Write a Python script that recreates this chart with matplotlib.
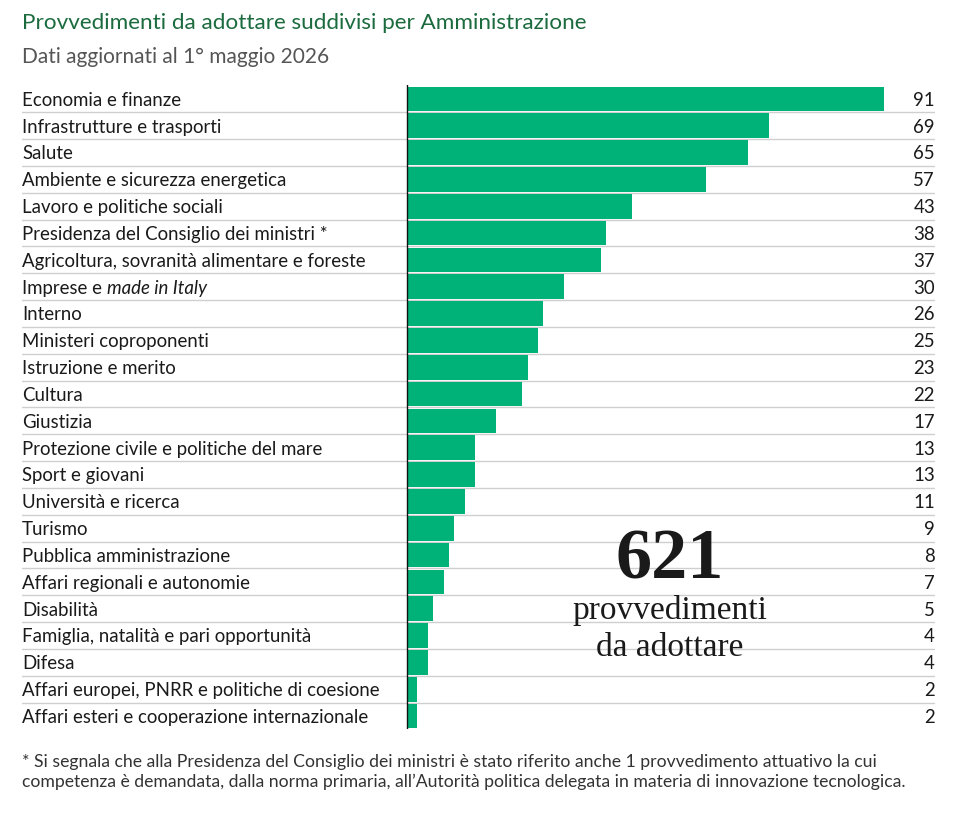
import matplotlib
matplotlib.use("Agg")
import matplotlib.pyplot as plt

# data
categories = [
    "Economia e finanze",
    "Infrastrutture e trasporti",
    "Salute",
    "Ambiente e sicurezza energetica",
    "Lavoro e politiche sociali",
    "Presidenza del Consiglio dei ministri *",
    "Agricoltura, sovranità alimentare e foreste",
    "Imprese e ",
    "Interno",
    "Ministeri coproponenti",
    "Istruzione e merito",
    "Cultura",
    "Giustizia",
    "Protezione civile e politiche del mare",
    "Sport e giovani",
    "Università e ricerca",
    "Turismo",
    "Pubblica amministrazione",
    "Affari regionali e autonomie",
    "Disabilità",
    "Famiglia, natalità e pari opportunità",
    "Difesa",
    "Affari europei, PNRR e politiche di coesione",
    "Affari esteri e cooperazione internazionale",
]
values = [91, 69, 65, 57, 43, 38, 37, 30, 26, 25, 23, 22, 17, 13, 13, 11, 9, 8, 7, 5, 4, 4, 2, 2]
italic_suffix = {7: "made in Italy"}

title = "Provvedimenti da adottare suddivisi per Amministrazione"
subtitle = "Dati aggiornati al 1° maggio 2026"
total_label = "621"
total_text = "provvedimenti\nda adottare"
footnote = ("* Si segnala che alla Presidenza del Consiglio dei ministri è stato riferito anche 1 provvedimento attuativo la cui\n"
            "competenza è demandata, dalla norma primaria, all’Autorità politica delegata in materia di innovazione tecnologica.")

W, H = 970, 818
BAR = "#00b277"
GREEN_TITLE = "#1b6b3e"
TXT = "#1a1a1a"
FONT = ["Lato", "DejaVu Sans"]

plt.rcParams["font.family"] = FONT

fig = plt.figure(figsize=(W / 100, H / 100), dpi=100)

# axes in pixel layout: 0 at x=407, 91 at x=884
x0_px, x1_px = 407, 884
left_px, right_px = 22, 935
scale = (x1_px - x0_px) / 91.0
top_px, row_h = 85.5, 26.83
n = len(categories)
bottom_px = top_px + n * row_h

ax = fig.add_axes([left_px / W, 1 - bottom_px / H, (right_px - left_px) / W, (bottom_px - top_px) / H])
xmin = (left_px - x0_px) / scale
xmax = (right_px - x0_px) / scale
ax.set_xlim(xmin, xmax)
ax.set_ylim(n - 0.5, -0.5)
ax.axis("off")

ypos = list(range(n))
ax.barh(ypos, values, height=0.92, color=BAR, zorder=2)
for i in range(n - 1):
    ax.axhline(i + 0.5, color="#cfcfcf", lw=1.0, zorder=1)
ax.plot([0, 0], [-0.5, n - 0.5], color="#111111", lw=1.0, zorder=3)

for i, (cat, v) in enumerate(zip(categories, values)):
    t = ax.text(xmin, i + 0.05, cat, ha="left", va="center", fontsize=13.4, color=TXT)
    if i in italic_suffix:
        ax.annotate(italic_suffix[i], xy=(1, 0), xycoords=t, ha="left", va="bottom",
                    fontsize=13.4, color=TXT, style="italic")
    ax.text(xmax, i + 0.05, str(v), ha="right", va="center", fontsize=13.4, color=TXT)

fig.text(22 / W, 1 - 23 / H, title, ha="left", va="center", fontsize=16.2, color=GREEN_TITLE)
fig.text(22 / W, 1 - 57 / H, subtitle, ha="left", va="center", fontsize=15, color="#555555")

fig.text(670 / W, 1 - 561 / H, total_label, ha="center", va="center", fontsize=52,
         fontweight="bold", family="Liberation Serif", color="#1a1a1a")
fig.text(670 / W, 1 - 629 / H, total_text, ha="center", va="center", fontsize=24,
         family="Liberation Serif", color="#1a1a1a", linespacing=1.25)

fig.text(22 / W, 1 - 772 / H, footnote, ha="left", va="center", fontsize=12.7,
         color="#333333", linespacing=1.2)

fig.savefig("out.png", dpi=100)
